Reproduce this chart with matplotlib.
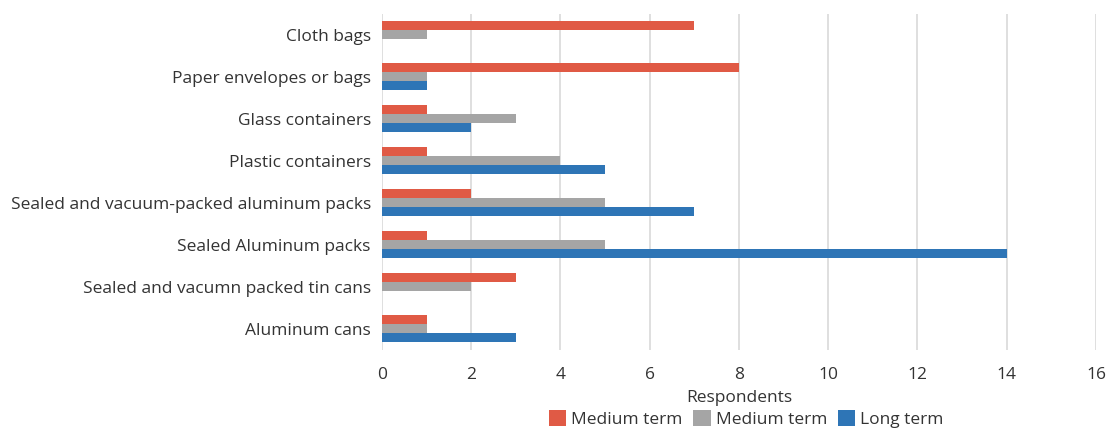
import matplotlib.pyplot as plt
import numpy as np

categorias = ["Cloth bags", "Paper envelopes or bags", "Glass containers",
              "Plastic containers", "Sealed and vacuum-packed aluminum packs",
              "Sealed Aluminum packs", "Sealed and vacumn packed tin cans",
              "Aluminum cans"]
medio_rojo = [7, 8, 1, 1, 2, 1, 3, 1]
medio_gris = [1, 1, 3, 4, 5, 5, 2, 1]
largo = [0, 1, 2, 5, 7, 14, 0, 3]
etiquetas = ["Medium term", "Medium term", "Long term"]
colores = ["#E05A45", "#A5A5A5", "#2E75B6"]

plt.rcParams["font.family"] = ["Open Sans", "DejaVu Sans"]

fig = plt.figure(figsize=(11.07, 4.32), dpi=100)
ax = fig.add_axes([0.345, 0.19, 0.645, 0.778])

y = np.arange(len(categorias))
h = 0.215
for i, (vals, lab, col) in enumerate(zip([medio_rojo, medio_gris, largo], etiquetas, colores)):
    ax.barh(y + (i - 1) * h, vals, height=h, color=col, label=lab, zorder=3)

ax.set_ylim(len(categorias) - 0.5, -0.5)
ax.set_yticks(y)
ax.set_yticklabels(categorias, fontsize=12.5, color="#333333")
ax.set_xlim(0, 16)
ax.set_xticks(range(0, 17, 2))
ax.tick_params(axis="x", labelsize=12.5, colors="#333333", length=0, pad=12)
ax.tick_params(axis="y", length=0, pad=8)
ax.grid(axis="x", color="#D9D9D9", linewidth=1.2, zorder=0)
for s in ax.spines.values():
    s.set_visible(False)
ax.set_xlabel("Respondents", fontsize=12.5, color="#333333", labelpad=5)

fig.legend(loc="center", bbox_to_anchor=(0.674, 0.03), ncol=3, frameon=False,
           fontsize=12.5, handlelength=1.0, handleheight=1.0, columnspacing=0.6,
           handletextpad=0.3, labelcolor="#333333", borderaxespad=0, borderpad=0)

fig.savefig("out.png", dpi=100)
